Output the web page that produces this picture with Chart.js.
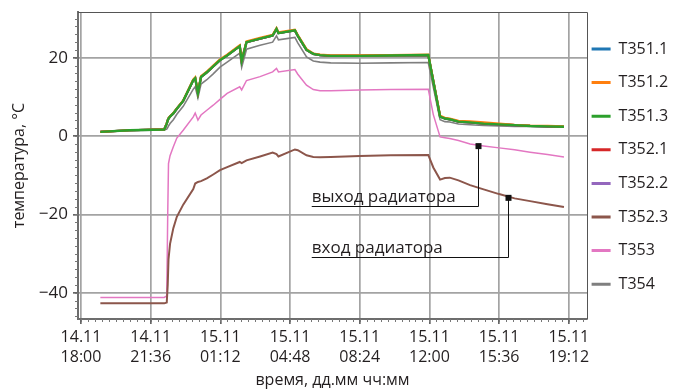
<!DOCTYPE html>
<html>
<head>
<meta charset="utf-8">
<script src="https://cdn.jsdelivr.net/npm/chart.js@4/dist/chart.umd.min.js"></script>
<style>
  html, body { margin: 0; padding: 0; background: #fff; }
  #chart { display: block; }
</style>
</head>
<body>
<canvas id="chart" width="684" height="392"></canvas>
<script>
// hours after 14.11 18:00
const hours = [1.0, 2.5, 4.3, 4.43, 4.48, 4.52, 4.6, 4.77, 4.95, 5.28, 5.8, 5.9, 6.04, 6.2, 6.5, 6.83, 7.18, 7.55, 8.2, 8.3, 8.55, 9.25, 9.9, 10.1, 10.2, 11.05, 11.2, 11.65, 12.0, 12.35, 12.9, 14.4, 16.0, 17.94, 18.2, 18.55, 18.8, 19.05, 19.5, 20.1, 20.8, 21.6, 22.4, 23.2, 24.1, 24.95];

// T351.x / T352.1 / T352.2 run almost on top of each other
const t351 = [1.1, 1.5, 1.7, 3.2, 4.0, 4.5, 5.0, 5.8, 7.0, 9.0, 14.3, 14.8, 11.0, 15.1, 16.3, 17.8, 19.4, 20.6, 23.0, 19.2, 24.0, 24.9, 25.7, 27.4, 26.3, 27.0, 25.6, 22.0, 21.0, 20.7, 20.5, 20.5, 20.6, 20.7, 14.0, 5.0, 4.5, 4.3, 3.7, 3.5, 3.2, 3.0, 2.8, 2.6, 2.5, 2.4];
const t351b = [1.1, 1.5, 1.7, 3.3, 4.1, 4.6, 5.1, 5.9, 7.1, 9.1, 14.5, 15.0, 11.2, 15.3, 16.5, 18.0, 19.6, 20.8, 23.2, 19.4, 24.2, 25.1, 25.9, 27.6, 26.5, 27.2, 25.8, 22.2, 21.1, 20.8, 20.6, 20.6, 20.7, 20.8, 14.2, 5.2, 4.7, 4.5, 3.9, 3.8, 3.5, 3.2, 2.9, 2.7, 2.6, 2.5];
const t352_3 = [-42.7, -42.7, -42.7, -42.5, -38, -31.5, -27.5, -23.5, -20.6, -17.5, -13.5, -12.1, -11.7, -11.5, -10.8, -9.8, -8.7, -7.9, -6.6, -6.9, -6.2, -5.2, -4.2, -4.6, -5.2, -3.4, -3.6, -4.9, -5.3, -5.4, -5.3, -5.1, -4.9, -4.8, -8.0, -11.1, -10.7, -10.6, -11.3, -12.5, -13.6, -14.8, -15.9, -16.6, -17.4, -18.1];
const t353 = [-41.2, -41.2, -41.2, -40.8, -20, -7.0, -5.0, -2.7, -0.5, 1.5, 4.9, 5.9, 4.1, 5.4, 6.6, 7.9, 9.4, 10.9, 12.6, 11.8, 14.2, 15.2, 16.4, 17.3, 16.4, 17.0, 15.8, 13.0, 11.9, 11.6, 11.6, 11.8, 11.9, 12.0, 5.5, -0.2, -0.4, -0.6, -1.1, -2.0, -2.5, -3.0, -3.5, -4.1, -4.7, -5.3];
const t354 = [1.1, 1.4, 1.6, 1.8, 2.2, 2.6, 3.2, 4.2, 5.6, 7.6, 12.0, 12.6, 9.8, 13.3, 14.4, 15.9, 17.6, 18.9, 21.2, 17.6, 22.2, 23.2, 24.0, 25.6, 24.6, 25.2, 23.8, 20.2, 19.2, 18.9, 18.7, 18.6, 18.7, 18.8, 12.5, 4.2, 3.7, 3.6, 3.1, 2.9, 2.7, 2.6, 2.5, 2.5, 2.4, 2.4];

const xTickHours = [0, 3.6, 7.2, 10.8, 14.4, 18, 21.6, 25.2];
const xTickLabels = [['14.11', '18:00'], ['14.11', '21:36'], ['15.11', '01:12'], ['15.11', '04:48'], ['15.11', '08:24'], ['15.11', '12:00'], ['15.11', '15:36'], ['15.11', '19:12']];
const yTicks = [-40, -20, 0, 20];

// callouts: point on the curve, y of the underline, x where the text starts (data units)
const callouts = [
  { text: 'выход радиатора', x: 20.49, y: -2.55, lineY: -17.9, textX: 11.92 },
  { text: 'вход радиатора', x: 22.07, y: -15.76, lineY: -30.8, textX: 11.92 }
];

const FONT = "'Open Sans', 'DejaVu Sans', sans-serif";
const TEXT = '#231f20';

const pts = vals => hours.map((h, i) => ({ x: h, y: vals[i] }));

const series = [
  { label: 'T351.1', data: t351, color: '#1f77b4', order: 3, width: 2.2 },
  { label: 'T351.2', data: t351b, color: '#ff7f0e', order: 1, width: 2.2 },
  { label: 'T351.3', data: t351, color: '#2ca02c', order: 0, width: 2.4 },
  { label: 'T352.1', data: t351, color: '#d62728', order: 2, width: 2.2 },
  { label: 'T352.2', data: t351, color: '#9467bd', order: 4, width: 2.2 },
  { label: 'T352.3', data: t352_3, color: '#8c564b', order: 5, width: 2 },
  { label: 'T353', data: t353, color: '#e377c2', order: 6, width: 1.5 },
  { label: 'T354', data: t354, color: '#7f7f7f', order: 5, width: 1.6 }
];

// legend sits in a fixed strip right of the plot
const legendStrip = {
  id: 'legendStrip',
  beforeUpdate(chart) {
    const lg = chart.legend;
    if (lg && !lg._fixed) {
      const fit = lg.fit.bind(lg);
      lg.fit = function () { fit(); this.width = 97; };
      lg._fixed = true;
    }
  },
  afterLayout(chart) {
    const lg = chart.legend;
    const h = lg.bottom - lg.top;
    lg.left = 574;
    lg.right = 684;
    lg.top = 23.4;
    lg.bottom = lg.top + h;
  }
};

const extras = {
  id: 'extras',
  afterDatasetsDraw(chart) {
    const { ctx, chartArea: a, scales: { x, y } } = chart;
    ctx.save();
    // top and right frame
    ctx.strokeStyle = '#555';
    ctx.lineWidth = 1;
    ctx.beginPath();
    ctx.moveTo(a.left, a.top + 0.5);
    ctx.lineTo(a.right + 0.5, a.top + 0.5);
    ctx.lineTo(a.right + 0.5, a.bottom);
    ctx.stroke();

    // minor ticks
    ctx.strokeStyle = '#777';
    ctx.beginPath();
    for (let h = 0; h <= x.max; h += 0.36) {
      const px = Math.round(x.getPixelForValue(h)) + 0.5;
      ctx.moveTo(px, a.bottom);
      ctx.lineTo(px, a.bottom + 3);
    }
    for (let v = -46; v <= y.max; v += 2) {
      const py = Math.round(y.getPixelForValue(v)) + 0.5;
      ctx.moveTo(a.left, py);
      ctx.lineTo(a.left - 3, py);
    }
    ctx.stroke();

    // callouts
    ctx.strokeStyle = '#111';
    ctx.lineWidth = 1;
    ctx.font = '17px ' + FONT;
    ctx.textBaseline = 'alphabetic';
    callouts.forEach(c => {
      const px = Math.round(x.getPixelForValue(c.x)) + 0.5;
      const py = y.getPixelForValue(c.y);
      const ly = Math.round(y.getPixelForValue(c.lineY)) + 0.5;
      const tx = x.getPixelForValue(c.textX);
      ctx.beginPath();
      ctx.moveTo(tx, ly);
      ctx.lineTo(px, ly);
      ctx.lineTo(px, py);
      ctx.stroke();
      ctx.fillStyle = '#111';
      ctx.fillRect(px - 3, py - 3, 6, 6);
      ctx.fillStyle = TEXT;
      ctx.fillText(c.text, tx, ly - 5);
    });
    ctx.restore();
  }
};

new Chart(document.getElementById('chart'), {
  type: 'line',
  data: {
    datasets: series.map(s => ({
      label: s.label,
      data: pts(s.data),
      borderColor: s.color,
      backgroundColor: s.color,
      borderWidth: s.width,
      order: s.order,
      pointRadius: 0,
      tension: 0,
      fill: false
    }))
  },
  options: {
    responsive: false,
    animation: false,
    layout: { padding: { left: 0, right: 0, top: 12, bottom: 0 } },
    scales: {
      x: {
        type: 'linear',
        min: -0.155,
        max: 26.14,
        afterBuildTicks: s => { s.ticks = xTickHours.map(v => ({ value: v })); },
        afterFit: s => { s.height = 73; s.paddingLeft = 0; s.paddingRight = 0; },
        ticks: {
          autoSkip: false,
          maxRotation: 0,
          padding: 3,
          color: TEXT,
          font: { family: FONT, size: 16, lineHeight: 1.25 },
          callback: (v, i) => xTickLabels[i]
        },
        grid: { color: '#a3a3a3', lineWidth: 1.7, tickLength: 5, tickColor: '#666' },
        border: { color: '#6d6d6d', width: 2 },
        title: {
          display: true,
          text: 'время, дд.мм чч:мм',
          color: TEXT,
          font: { family: FONT, size: 16 },
          padding: { top: 0, bottom: 2 }
        }
      },
      y: {
        min: -46.7,
        max: 31.7,
        afterBuildTicks: s => { s.ticks = yTicks.map(v => ({ value: v })); },
        afterFit: s => { s.width = 78; s.paddingTop = 0; s.paddingBottom = 0; },
        ticks: {
          padding: 5,
          color: TEXT,
          font: { family: FONT, size: 17 },
          callback: v => (v < 0 ? '\u2212' + Math.abs(v) : String(v))
        },
        grid: { color: '#a3a3a3', lineWidth: 1.7, tickLength: 5, tickColor: '#666' },
        border: { color: '#6d6d6d', width: 2 },
        title: {
          display: true,
          text: 'температура, °C',
          color: TEXT,
          font: { family: FONT, size: 16 },
          padding: { top: 10, bottom: 0 }
        }
      }
    },
    plugins: {
      legend: {
        position: 'right',
        align: 'start',
        labels: {
          boxWidth: 19,
          boxHeight: 3,
          padding: 17.6,
          color: TEXT,
          font: { family: FONT, size: 16 },
          generateLabels: chart => Chart.defaults.plugins.legend.labels.generateLabels(chart).map(l => ({ ...l, lineWidth: 0 })),
          sort: (a, b) => a.datasetIndex - b.datasetIndex
        }
      },
      tooltip: { enabled: false }
    }
  },
  plugins: [legendStrip, extras]
});
</script>
</body>
</html>
